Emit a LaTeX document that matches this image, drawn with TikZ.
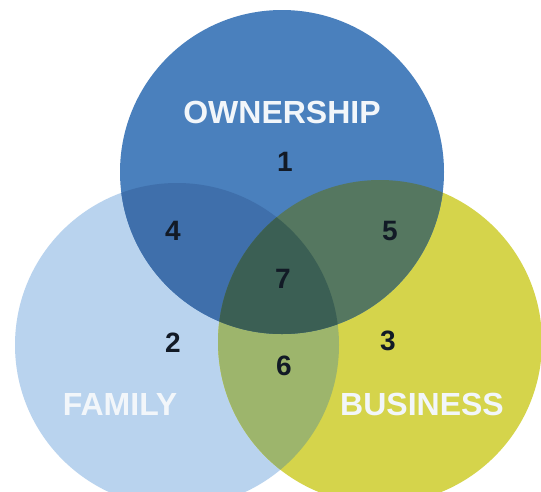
\documentclass[tikz,border=0pt]{standalone}
\usepackage{fontspec}
\setmainfont{Liberation Sans}
\definecolor{cO}{HTML}{4A80BD}
\definecolor{cF}{HTML}{B9D3EE}
\definecolor{cB}{HTML}{D5D44B}
\definecolor{cOF}{HTML}{3F6FAB}
\definecolor{cOB}{HTML}{557760}
\definecolor{cFB}{HTML}{9DB56C}
\definecolor{cOFB}{HTML}{3B5F54}
\definecolor{lbl}{HTML}{F2F6FA}
\definecolor{num}{HTML}{121A26}
\tikzset{
  setlabel/.style={text=lbl, font=\bfseries\fontsize{32}{32}\selectfont, inner sep=0pt},
  numlabel/.style={text=num, font=\bfseries\fontsize{28}{28}\selectfont, inner sep=0pt}
}
\begin{document}
\begin{tikzpicture}[x=1pt,y=-1pt]
\useasboundingbox (0,0) rectangle (541,491);
\clip (0,0) rectangle (541,491);
\fill[white] (0,0) rectangle (541,491);
\coordinate (O) at (282,172);
\coordinate (F) at (177,345);
\coordinate (B) at (380,342);
\def\rr{162}
% base circles
\fill[cF] (F) circle[radius=\rr];
\fill[cB] (B) circle[radius=\rr];
\fill[cO] (O) circle[radius=\rr];
% family-business
\begin{scope}
  \clip (F) circle[radius=\rr];
  \fill[cFB] (B) circle[radius=\rr];
\end{scope}
% ownership-family
\begin{scope}
  \clip (F) circle[radius=\rr];
  \fill[cOF] (O) circle[radius=\rr];
\end{scope}
% ownership-business
\begin{scope}
  \clip (O) circle[radius=\rr];
  \fill[cOB] (B) circle[radius=\rr];
\end{scope}
% all three
\begin{scope}
  \clip (O) circle[radius=\rr];
  \clip (F) circle[radius=\rr];
  \fill[cOFB] (B) circle[radius=\rr];
\end{scope}
% labels
\node[setlabel] (own) at (282,112) {OWNERSHIP};
\node[setlabel] (fam) at (120,404) {FAMILY};
\node[setlabel] (bus) at (422,404) {BUSINESS};
\node[numlabel] (n1) at (285,162) {1};
\node[numlabel] (n2) at (173,343) {2};
\node[numlabel] (n3) at (388,341) {3};
\node[numlabel] (n4) at (173,231) {4};
\node[numlabel] (n5) at (390,231) {5};
\node[numlabel] (n6) at (284,366) {6};
\node[numlabel] (n7) at (283,279) {7};
\end{tikzpicture}
\end{document}
